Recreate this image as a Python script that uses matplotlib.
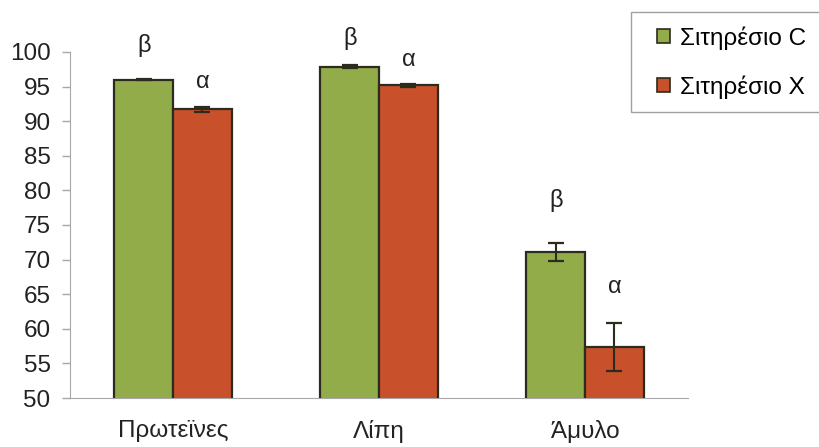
import matplotlib
matplotlib.use("Agg")
import matplotlib.pyplot as plt
from matplotlib.patches import Rectangle
import numpy as np

categories = ["Πρωτεϊνες", "Λίπη", "Άμυλο"]
series_names = ["Σιτηρέσιο C", "Σιτηρέσιο X"]
vals_c = [96.0, 97.9, 71.1]
vals_x = [91.7, 95.2, 57.4]
err_c = [0.1, 0.2, 1.3]
err_x = [0.4, 0.2, 3.5]
letters_c = ["β", "β", "β"]
letters_x = ["α", "α", "α"]
letter_y_c = [101.0, 102.0, 78.6]
letter_y_x = [95.7, 98.8, 66.0]
yticks = list(range(50, 101, 5))

plt.rcParams['font.family'] = ['Liberation Sans', 'DejaVu Sans']

W, H = 820, 447
fig = plt.figure(figsize=(8.2, 4.47), dpi=100)
ax = fig.add_axes([0.0854, 0.1096, 0.7536, 0.7741])

x = np.arange(len(categories))
w = 0.285
green = "#93AC4A"
red = "#C8502B"
edge = "#2b2b1e"
ax.bar(x - w/2, vals_c, w, color=green, edgecolor=edge, linewidth=1.6, label=series_names[0], zorder=2)
ax.bar(x + w/2, vals_x, w, color=red, edgecolor=edge, linewidth=1.6, label=series_names[1], zorder=2)
ax.errorbar(x - w/2, vals_c, yerr=err_c, fmt='none', ecolor=edge, capsize=6, elinewidth=1.5, capthick=1.6, zorder=3)
ax.errorbar(x + w/2, vals_x, yerr=err_x, fmt='none', ecolor=edge, capsize=6, elinewidth=1.5, capthick=1.6, zorder=3)

for i in range(len(categories)):
    ax.text(x[i] - w/2, letter_y_c[i], letters_c[i], ha='center', va='center', fontsize=17, color='#222222', clip_on=False)
    ax.text(x[i] + w/2, letter_y_x[i], letters_x[i], ha='center', va='center', fontsize=17, color='#222222', clip_on=False)

ax.set_xlim(-0.5, 2.5)
ax.set_ylim(50, 100)
ax.set_yticks(yticks)
ax.set_yticklabels([str(t) for t in yticks], fontsize=17.5, color='#222222')
ax.set_xticks(x)
ax.set_xticklabels(categories, fontsize=17.5, color='#222222')
ax.tick_params(axis='x', length=0, pad=16)
ax.tick_params(axis='y', length=6, color='#a8a8a8', width=1, pad=8)
for s in ['top', 'right']:
    ax.spines[s].set_visible(False)
ax.spines['left'].set_color('#a8a8a8')
ax.spines['bottom'].set_color('#a8a8a8')
ax.spines['bottom'].set_zorder(1)

leg = fig.legend(loc='upper left', bbox_to_anchor=(657 / W, 1 - 26 / H), fontsize=17.5, frameon=False,
                 handlelength=0.54, handleheight=0.54,
                 handletextpad=0.4, labelspacing=1.05, borderpad=0, borderaxespad=0)
for h in leg.legend_handles:
    h.set_linewidth(1.2)

fig.patches.append(Rectangle((631 / W, 1 - 112 / H), (835 - 631) / W, 100 / H,
                             transform=fig.transFigure, fill=False, edgecolor='#a0a0a0', linewidth=1.0))

fig.savefig("out.png", dpi=100, facecolor='white')
